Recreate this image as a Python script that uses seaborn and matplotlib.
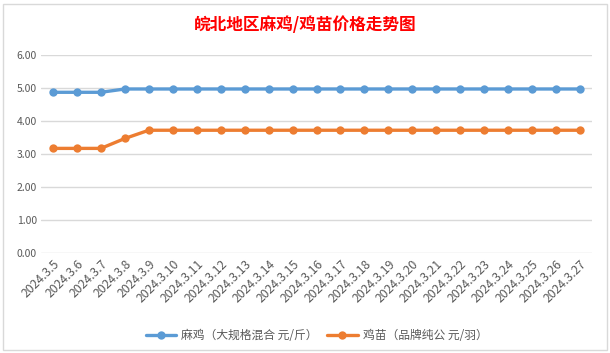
import numpy as np
import pandas as pd
import seaborn as sns
import matplotlib.pyplot as plt
from matplotlib.patches import Rectangle

# dates 2024.3.5 - 2024.3.27
dates = ['2024.3.%d' % d for d in range(5, 28)]
ma_ji = [4.87, 4.87, 4.87] + [4.97] * 20
ji_miao = [3.17, 3.17, 3.17, 3.47] + [3.72] * 19

label_a = '麻鸡（大规格混合 元/斤）'
label_b = '鸡苗（品牌纯公 元/羽）'

df = pd.DataFrame({
    'date': dates * 2,
    'price': ma_ji + ji_miao,
    'series': [label_a] * len(dates) + [label_b] * len(dates),
})

sns.set_style('white')
plt.rcParams['font.family'] = ['Noto Sans CJK SC', 'DejaVu Sans']

fig = plt.figure(figsize=(6.1, 3.53), dpi=100)
ax = fig.add_axes([41 / 610, 1 - 253 / 353, (592 - 41) / 610, (253 - 55) / 353])

sns.lineplot(data=df, x='date', y='price', hue='series', sort=False,
             palette=['#5B9BD5', '#ED7D31'], marker='o', markersize=6,
             markeredgewidth=0, linewidth=2.4, ax=ax)

ax.set_xlim(-0.5, len(dates) - 0.5)
ax.set_ylim(0, 6)
ax.set_yticks(np.arange(0, 6.01, 1))
ax.set_yticklabels(['%.2f' % v for v in np.arange(0, 6.01, 1)])
ax.yaxis.grid(True, color='#d9d9d9', linewidth=1)
ax.set_xlabel('')
ax.set_ylabel('')
for s in ax.spines.values():
    s.set_visible(False)
ax.tick_params(axis='both', length=0, labelsize=7.5, colors='#595959', pad=3)
ax.tick_params(axis='x', labelsize=8.8)
plt.setp(ax.get_xticklabels(), rotation=45, ha='right', rotation_mode='anchor')

ax.legend(loc='upper center', bbox_to_anchor=(0.5, -0.33), ncol=2, frameon=False,
          fontsize=8.5, handlelength=2.6, handletextpad=0.4, columnspacing=0.8,
          labelcolor='#595959')

fig.text(0.5, 1 - 25 / 353, '皖北地区麻鸡/鸡苗价格走势图', ha='center', va='center',
         color='#FF0000', fontsize=12, fontweight='bold')

fig.patches.append(Rectangle((3 / 610, 3 / 353), 604 / 610, 346 / 353, transform=fig.transFigure,
                             fill=False, edgecolor='#d9d9d9', linewidth=1))

fig.savefig('out.png', dpi=100)
